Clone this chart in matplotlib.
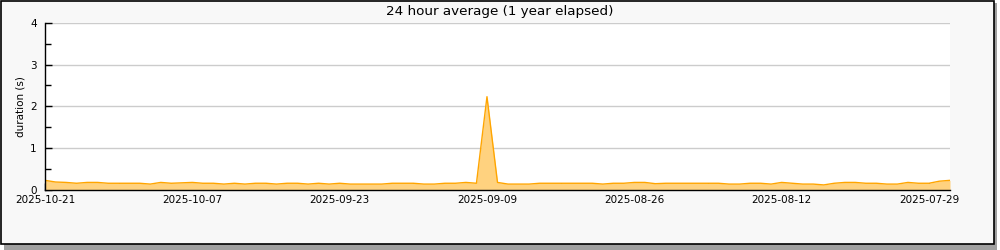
import numpy as np
import pandas as pd
import matplotlib
matplotlib.use("Agg")
import matplotlib.pyplot as plt
from matplotlib.patches import Rectangle

# --- dados (mais recente primeiro, um ponto por dia) ---
first_day = "2025-10-21"
durations = [
    0.22, 0.18, 0.17, 0.15, 0.17, 0.17, 0.15, 0.15, 0.15, 0.15,
    0.13, 0.17, 0.15, 0.16, 0.17, 0.15, 0.15, 0.13, 0.15, 0.13,
    0.15, 0.15, 0.13, 0.15, 0.15, 0.13, 0.15, 0.13, 0.15, 0.13,
    0.13, 0.13, 0.13, 0.15, 0.15, 0.15, 0.13, 0.13, 0.15, 0.15,
    0.17, 0.15, 2.23, 0.17, 0.13, 0.13, 0.13, 0.15, 0.15, 0.15,
    0.15, 0.15, 0.15, 0.13, 0.15, 0.15, 0.17, 0.17, 0.14, 0.15,
    0.15, 0.15, 0.15, 0.15, 0.15, 0.13, 0.13, 0.15, 0.15, 0.13,
    0.17, 0.15, 0.13, 0.13, 0.11, 0.15, 0.17, 0.17, 0.15, 0.15,
    0.13, 0.13, 0.17, 0.15, 0.15, 0.20, 0.22,
]
dates = pd.date_range(first_day, periods=len(durations), freq="-1D")

label_ticks = ["2025-10-21", "2025-10-07", "2025-09-23", "2025-09-09",
               "2025-08-26", "2025-08-12", "2025-07-29"]
minor_ticks = ["2025-10-14", "2025-09-30", "2025-09-16", "2025-09-02",
               "2025-08-19", "2025-08-05"]
x_limits = ["2025-10-21", "2025-07-27"]

title = "24 hour average (1 year elapsed)"
ylabel = "duration (s)"

# --- figura ---
fig = plt.figure(figsize=(10, 2.5), dpi=100, facecolor="white")
# sombra + moldura
fig.patches.append(Rectangle((0.004, 0.0), 0.993, 0.99, transform=fig.transFigure,
                             facecolor="#a0a0a0", edgecolor="none", zorder=-2))
fig.patches.append(Rectangle((0.001, 0.026), 0.993, 0.972, transform=fig.transFigure,
                             facecolor="#f8f8f8", edgecolor="black", linewidth=1.2, zorder=-1))

ax = fig.add_axes([0.045, 0.242, 0.905, 0.666])
ax.set_zorder(3)
ax.set_facecolor("white")

ax.fill_between(dates, durations, 0, color="#ffd27f", linewidth=0, zorder=2)
ax.plot(dates, durations, color="#ffa500", linewidth=1, zorder=3)

ax.set_xlim(pd.Timestamp(x_limits[0]), pd.Timestamp(x_limits[1]))
ax.set_ylim(0, 4)

ax.set_xticks([pd.Timestamp(d) for d in label_ticks])
ax.set_xticklabels(label_ticks)
ax.set_xticks([pd.Timestamp(d) for d in minor_ticks], minor=True)
ax.set_yticks([0, 1, 2, 3, 4])
ax.set_yticks(np.arange(0.5, 4, 1.0), minor=True)

ax.tick_params(axis="x", which="major", direction="in", length=5, width=1,
               labelsize=7.5, pad=4)
ax.tick_params(axis="x", which="minor", direction="in", length=5, width=1)
ax.tick_params(axis="y", which="major", direction="in", length=5, width=1,
               labelsize=7.5, pad=6)
ax.tick_params(axis="y", which="minor", direction="in", length=4, width=1)

ax.grid(True, axis="y", which="major", color="#cccccc", linewidth=1, zorder=1)
ax.set_axisbelow(True)
for side in ["top", "right"]:
    ax.spines[side].set_visible(False)
for side in ["left", "bottom"]:
    ax.spines[side].set_color("black")
    ax.spines[side].set_linewidth(1)
    ax.spines[side].set_zorder(5)

ax.set_ylabel(ylabel, fontsize=7.5, labelpad=3)
fig.text(0.5, 0.955, title, ha="center", va="center", fontsize=9.7)

fig.savefig("out.png", dpi=100, facecolor=fig.get_facecolor())
